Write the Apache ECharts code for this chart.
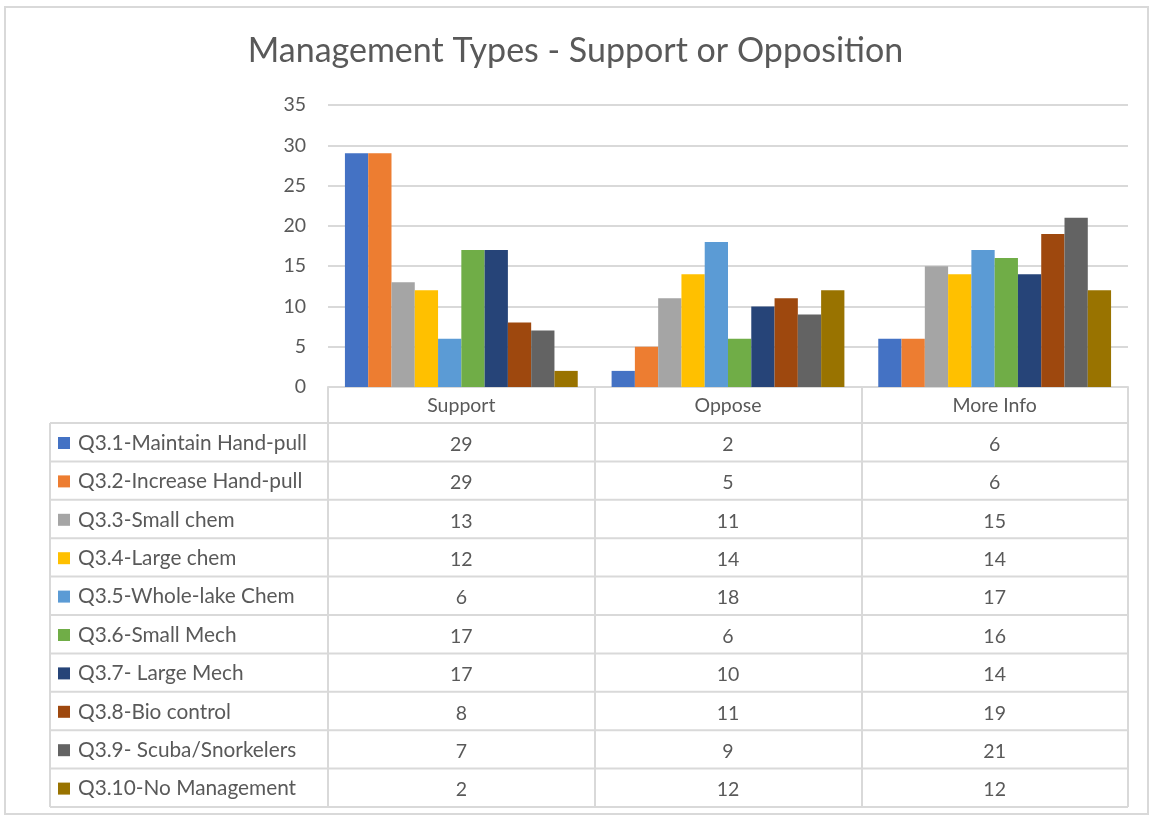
<!DOCTYPE html>
<html>
<head>
<meta charset="utf-8">
<script src="https://cdn.jsdelivr.net/npm/echarts@6/dist/echarts.min.js"></script>
<style>
  html, body { margin: 0; padding: 0; background: #fff; }
  #chart { width: 1151px; height: 817px; }
</style>
</head>
<body>
<div id="chart"></div>
<script>
const categories = ['Support', 'Oppose', 'More Info']
const types = [
  'Q3.1-Maintain Hand-pull',
  'Q3.2-Increase Hand-pull',
  'Q3.3-Small chem',
  'Q3.4-Large chem',
  'Q3.5-Whole-lake Chem',
  'Q3.6-Small Mech',
  'Q3.7- Large Mech',
  'Q3.8-Bio control',
  'Q3.9- Scuba/Snorkelers',
  'Q3.10-No Management'
]
const supportValues = [29, 29, 13, 12, 6, 17, 17, 8, 7, 2]
const opposeValues = [2, 5, 11, 14, 18, 6, 10, 11, 9, 12]
const moreInfoValues = [6, 6, 15, 14, 17, 16, 14, 19, 21, 12]
const colors = ['#4472C4', '#ED7D31', '#A5A5A5', '#FFC000', '#5B9BD5',
  '#70AD47', '#264478', '#9E480E', '#636363', '#997300']

const byCategory = [supportValues, opposeValues, moreInfoValues]
const textColor = '#595959'
const lineColor = '#d9d9d9'
const font = 'Lato, "Open Sans", sans-serif'

// table layout
const tableLeft = 50
const plotLeft = 328
const plotRight = 1128
const headerTop = 387
const rowTop = 423
const rowH = 38.4
const legendLine = 24

const chart = echarts.init(document.getElementById('chart'))

const lines = []
for (let i = 0; i <= types.length; i++) {
  const y = rowTop + i * rowH
  lines.push({
    type: 'line',
    shape: { x1: tableLeft, y1: y, x2: plotRight, y2: y },
    style: { stroke: lineColor, lineWidth: 2 }
  })
}
lines.push({
  type: 'line',
  shape: { x1: tableLeft, y1: rowTop, x2: tableLeft, y2: rowTop + types.length * rowH },
  style: { stroke: lineColor, lineWidth: 2 }
})
// outer chart border
lines.push({
  type: 'rect',
  shape: { x: 5, y: 7, width: 1143, height: 807 },
  style: { fill: 'none', stroke: lineColor, lineWidth: 2 }
})

chart.setOption({
  color: colors,
  textStyle: { fontFamily: font },
  title: {
    text: 'Management Types - Support or Opposition',
    left: 'center',
    top: 29,
    textStyle: { color: textColor, fontSize: 34, fontWeight: 'normal', fontFamily: font }
  },
  legend: {
    data: types,
    orient: 'vertical',
    left: 58,
    top: rowTop + 8,
    padding: 0,
    icon: 'rect',
    itemWidth: 12,
    itemHeight: 12,
    itemGap: rowH - legendLine,
    selectedMode: false,
    textStyle: {
      color: textColor,
      fontSize: 20.8,
      lineHeight: legendLine,
      padding: [0, 0, 0, 3],
      fontFamily: font
    }
  },
  grid: {
    left: plotLeft,
    right: 1151 - plotRight,
    top: 105,
    bottom: 817 - headerTop
  },
  xAxis: {
    type: 'category',
    data: categories,
    axisLine: { lineStyle: { color: lineColor, width: 2 } },
    axisTick: {
      show: true,
      length: rowTop + types.length * rowH - headerTop,
      lineStyle: { color: lineColor, width: 2 }
    },
    axisLabel: {
      margin: 0,
      color: textColor,
      fontSize: 19.5,
      lineHeight: rowH,
      fontFamily: font,
      formatter: (name, idx) => [name].concat(byCategory[idx]).join('\n')
    }
  },
  yAxis: {
    type: 'value',
    min: 0,
    max: 35,
    interval: 5,
    axisLine: { show: false },
    axisTick: { show: false },
    axisLabel: { color: textColor, fontSize: 19.5, margin: 22, fontFamily: font },
    splitLine: { lineStyle: { color: lineColor, width: 2 } }
  },
  series: types.map((name, i) => ({
    name,
    type: 'bar',
    barGap: '0%',
    barCategoryGap: '12.7%',
    data: byCategory.map(arr => arr[i])
  })),
  graphic: lines
})
</script>
</body>
</html>
